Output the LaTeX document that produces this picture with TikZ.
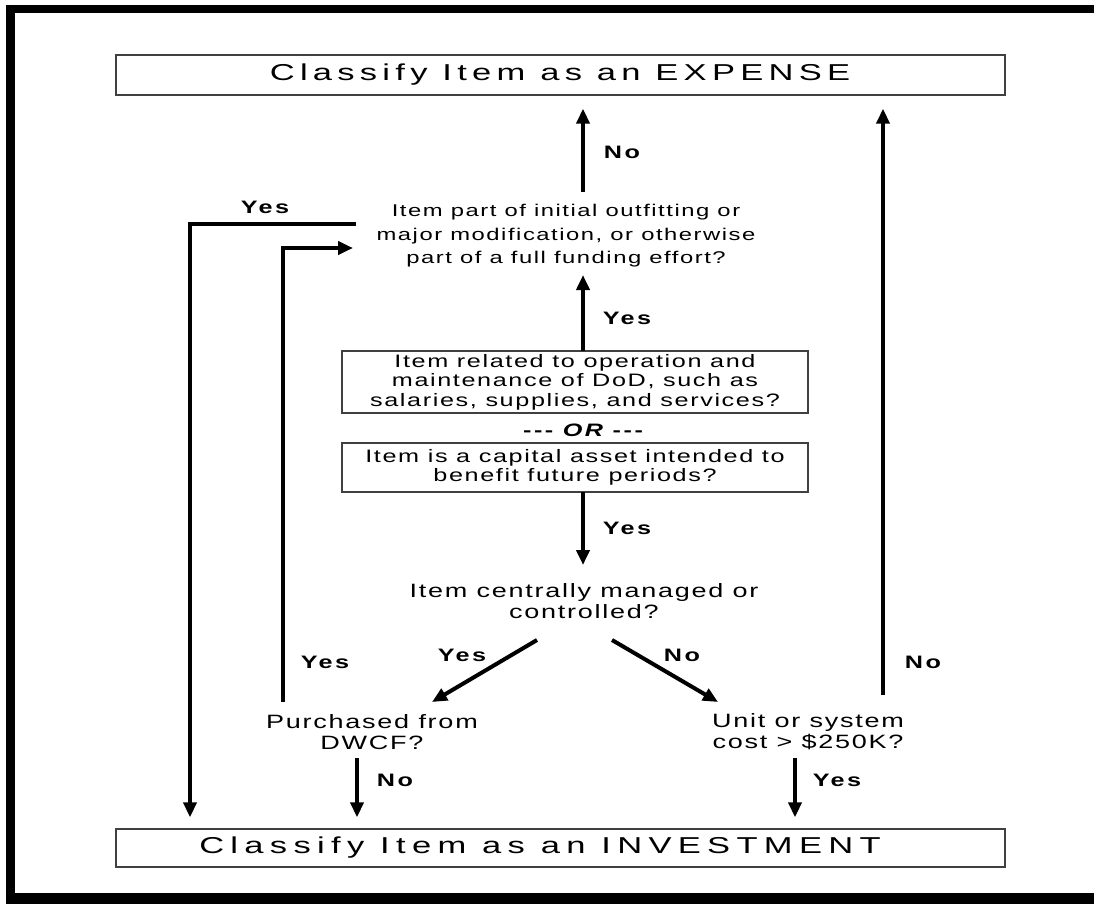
\documentclass[tikz,border=0pt]{standalone}
\usepackage{fontspec}
\setmainfont{Liberation Sans}
\newfontfamily\titlef[FakeStretch=1.5,LetterSpace=23]{Liberation Sans}
\newfontfamily\titlefw[FakeStretch=1.5,LetterSpace=27.5]{Liberation Sans}
\newfontfamily\bodyf[FakeStretch=1.4,LetterSpace=9]{Liberation Sans}
\newfontfamily\lblf[FakeStretch=1.4,LetterSpace=14]{Liberation Sans}
\usetikzlibrary{arrows.meta}
\begin{document}
\begin{tikzpicture}[x=1pt,y=-1pt,
  arr/.style={line width=4pt,-{Triangle[width=13pt,length=15pt]}},
  titlebox/.style={draw=black!75,line width=1.3pt,minimum width=889pt,inner sep=0pt},
  titletext/.style={inner sep=0pt,font=\titlef\fontsize{23}{27}\selectfont},
  qbox/.style={draw=black!75,line width=1.3pt,minimum width=466pt,inner sep=0pt,align=center,font=\bodyf\fontsize{18}{19.5}\selectfont},
  qtext/.style={align=center,inner sep=0pt,font=\bodyf\fontsize{17}{23.5}\selectfont},
  qtextb/.style={align=center,inner sep=0pt,font=\bodyf\fontsize{19.3}{21}\selectfont},
  lbl/.style={inner sep=0pt,font=\lblf\bfseries\fontsize{18}{20}\selectfont}]
\useasboundingbox (0,0) rectangle (1094,905);
\fill[white] (0,0) rectangle (1094,905);
% frame
\fill[black] (6,5) rectangle (1094,13);
\fill[black] (6,5) rectangle (15,904);
\fill[black] (6,893) rectangle (1094,904);

% nodes
\node[titlebox,minimum height=40pt] (expense) at (560.5,75) {};
\node[titletext] (expensetxt) at (560,75) {Classify Item as an EXPENSE};
\node[titlebox,minimum height=38pt] (invest) at (560.5,848) {};
\node[titletext,font=\titlefw\fontsize{23}{27}\selectfont] (investtxt) at (540,848) {Classify Item as an INVESTMENT};
\node[qtext] (q1) at (566,236) {Item part of initial outfitting or\\major modification, or otherwise\\part of a full funding effort?};
\node[qbox,minimum height=62pt] (b2) at (575,382) {Item related to operation and\\maintenance of DoD, such as\\salaries, supplies, and services?};
\node[lbl] (or) at (583,430) {-{}-{}- {\itshape OR} -{}-{}-};
\node[qbox,minimum height=49pt] (b3) at (575,467.5) {Item is a capital asset intended to\\benefit future periods?};
\node[qtextb] (q2) at (584,601) {Item centrally managed or\\controlled?};
\node[qtextb] (q3) at (372,732) {Purchased from\\DWCF?};
\node[qtextb] (q4) at (808,732) {Unit or system\\cost > \$250K?};

% anchor coordinates
\coordinate (q1up) at (583,192);
\coordinate (b2up) at (583,351);
\coordinate (q1dn) at (583,275);
\coordinate (b3dn) at (583,492);
\coordinate (q2in) at (583,565);
\coordinate (q2l) at (537,640);
\coordinate (q3in) at (432,702);
\coordinate (q2r) at (612,640);
\coordinate (q4in) at (718,702);
\coordinate (q3dn) at (357,758);
\coordinate (q4dn) at (795,758);
\coordinate (q4up) at (883,695);
\coordinate (q1l) at (356,224);
\coordinate (q1lin) at (353,248);
\coordinate (q3up) at (283,702);

% connectors
\draw[arr,shorten >=13pt] (q1up) -- (q1up |- expense.south);
\draw[arr] (b2up) -- (q1dn);
\draw[arr] (b3dn) -- (q2in);
\draw[arr] (q2l) -- (q3in);
\draw[arr] (q2r) -- (q4in);
\draw[arr,shorten >=11pt] (q3dn) -- (q3dn |- invest.north);
\draw[arr,shorten >=11pt] (q4dn) -- (q4dn |- invest.north);
\draw[arr,shorten >=13pt] (q4up) -- (q4up |- expense.south);
\draw[arr,shorten >=11pt] (q1l) -- (190,224) -- (190,224 |- invest.north);
\draw[arr] (q3up) -- (283,248) -- (q1lin);

% labels
\node[lbl] at (622,152) {No};
\node[lbl] at (627,318) {Yes};
\node[lbl] at (627,528) {Yes};
\node[lbl] at (462,655) {Yes};
\node[lbl] at (682,655) {No};
\node[lbl] at (265,207) {Yes};
\node[lbl] at (325,662) {Yes};
\node[lbl] at (395,780) {No};
\node[lbl] at (837,780) {Yes};
\node[lbl] at (923,662) {No};
\end{tikzpicture}
\end{document}
